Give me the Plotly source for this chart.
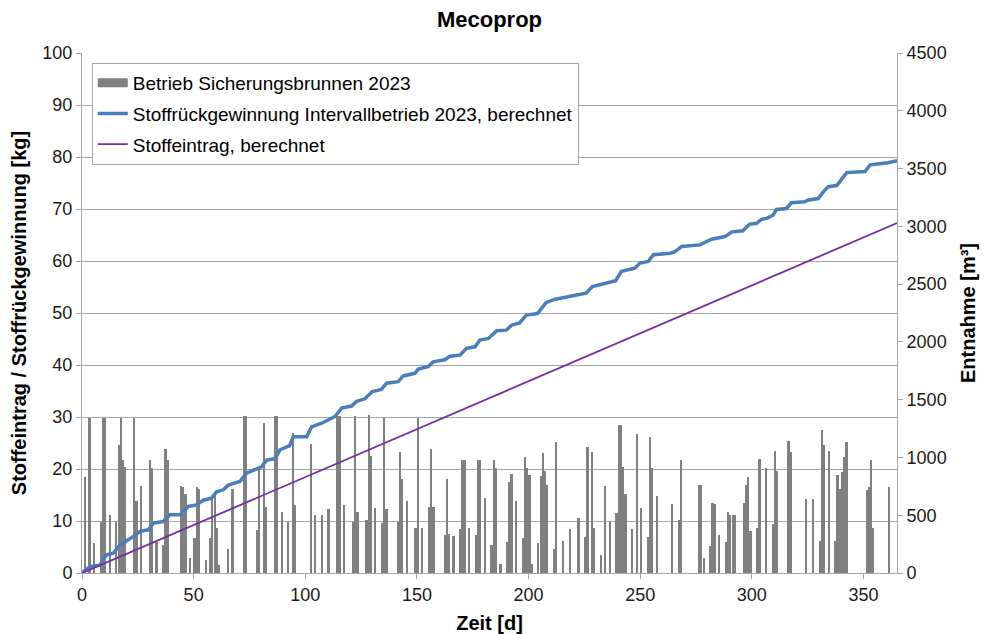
import plotly.graph_objects as go

# ---------------- data ----------------
# daily pumping volume of the protection well [m³] (category day index 1..365)
bar_days = [2, 4, 6, 9, 10, 11, 13, 16, 17, 18, 19, 20, 24, 25, 27, 31, 32, 34, 37, 38, 39,
            45, 46, 47, 49, 51, 52, 53, 56, 58, 59, 60, 61, 62, 66, 68, 73, 74, 79, 80, 82, 83,
            87, 88, 90, 93, 95, 96, 103, 105, 108, 111, 115, 116, 118, 122, 123, 124, 128, 129,
            130, 132, 135, 136, 137, 142, 143, 144, 146, 150, 151, 153, 156, 157, 158, 163, 164,
            165, 167, 170, 171, 172, 174, 177, 178, 179, 181, 184, 185, 186, 188, 191, 192, 193,
            195, 198, 199, 200, 201, 202, 205, 206, 207, 208, 209, 212, 213, 216, 219, 223, 226,
            227, 229, 230, 233, 235, 237, 240, 241, 242, 243, 244, 247, 249, 251, 254, 255, 256,
            258, 265, 268, 269, 277, 278, 279, 282, 283, 284, 286, 289, 290, 291, 292, 293, 297,
            298, 299, 300, 303, 304, 307, 310, 311, 312, 317, 318, 325, 328, 331, 332, 333, 335,
            338, 339, 340, 341, 342, 343, 352, 353, 354, 355, 362]
bar_m3 = [830, 1340, 260, 440, 1340, 1340, 500, 440, 1110, 1340, 980, 920, 1340, 620, 750, 980, 910, 270, 240, 1070, 980,
          750, 740, 680, 130, 300, 740, 730, 110, 300, 650, 680, 390, 70, 210, 730, 1360, 1360, 370, 920, 1300, 570,
          1360, 1360, 530, 440, 1210, 590, 1120, 500, 500, 550, 1360, 1360, 590, 440, 1360, 530, 460, 1370,
          1010, 560, 430, 1340, 550, 440, 1050, 810, 620, 390, 1340, 390, 570, 1070, 570, 330, 810,
          340, 320, 380, 980, 980, 390, 330, 980, 980, 650, 240, 980, 910, 80, 270, 790, 860,
          620, 300, 1000, 910, 850, 80, 260, 840, 1040, 880, 760, 210, 1130, 280, 380, 480, 310,
          1090, 1050, 390, 160, 750, 440, 520, 1280, 1280, 920, 680, 380, 1200, 560, 310, 1180, 910,
          670, 600, 460, 980, 760, 760, 130, 230, 610, 600, 330, 270, 530, 500, 500, 500, 610,
          760, 830, 360, 390, 990, 910, 420, 1060, 880, 1140, 1050, 640, 640, 280, 1240, 1110, 1060,
          280, 850, 730, 870, 1000, 1130, 720, 740, 980, 390, 740]

# cumulative recovery, interval operation 2023 [kg]
rec_days = [0, 0.6, 3.6, 8, 11, 14, 17, 20, 23, 26, 29.7, 32, 36.4, 39.4, 44, 47.6, 51.3, 54.3, 58,
            60.3, 63.3, 65.5, 70.7, 73.7, 76.7, 80.4, 82.7, 86.4, 88.7, 93, 94.6, 100.6, 102.8,
            107.3, 113.3, 116.3, 120.7, 123, 126.7, 130, 134.1, 136.4, 141.6, 143.9, 149.1, 150.6,
            155, 157.3, 162.5, 164.8, 169.3, 172.2, 176, 178.2, 182, 185.7, 190, 192.5, 196, 199,
            204, 207.8, 211.5, 219.7, 225.7, 228.6, 233.8, 239, 241.6, 247.6, 249.9, 253.6, 255.9,
            263.4, 265.6, 268.6, 276.7, 282, 288, 291, 296, 299, 302, 304.3, 306.6, 309.5, 311,
            315.5, 317.7, 323.7, 325, 329.7, 332, 334.2, 338, 340.2, 342.5, 350.7, 353, 361, 364, 365]
rec_kg = [0, 0.3, 1.2, 1.5, 3.5, 3.8, 5.4, 6.2, 7.0, 8.0, 8.3, 9.6, 9.9, 11.2, 11.2, 12.8, 13.1, 14.0, 14.4,
          15.6, 16.0, 16.9, 17.6, 19.2, 19.8, 20.4, 21.7, 22.0, 23.7, 24.5, 26.2, 26.2, 28.1,
          28.8, 30.1, 31.7, 32.1, 33.0, 33.5, 34.9, 35.3, 36.5, 36.8, 37.9, 38.4, 39.2,
          39.7, 40.6, 41.0, 41.7, 41.9, 43.2, 43.5, 44.8, 45.1, 46.6, 46.7, 47.7, 48.1, 49.6,
          49.9, 52.0, 52.6, 53.3, 53.8, 55.1, 55.6, 56.2, 58.0, 58.6, 59.6, 59.9, 61.2,
          61.5, 61.8, 62.8, 63.1, 64.2, 64.7, 65.6, 65.8, 67.1, 67.2, 68.0, 68.2, 68.8, 69.9,
          70.1, 71.2, 71.4, 71.7, 72.0, 73.3, 74.3, 74.5, 75.7, 77.0, 77.2, 78.5, 78.9, 79.2, 79.3]

# calculated input [kg]
inp_days = [0, 365]
inp_kg = [0, 67.3]

x_ticks = [0, 50, 100, 150, 200, 250, 300, 350]

# ---------------- figure ----------------
FONT = "Liberation Sans, Arial, sans-serif"
GRID = "#a6a6a6"
TXT = "#1a1a1a"
BAR = "#808080"

bar_x = [d - 0.5 for d in bar_days]

fig = go.Figure()
fig.add_trace(go.Bar(
    x=bar_x, y=bar_m3, name="Betrieb Sicherungsbrunnen 2023",
    marker=dict(color=BAR, line=dict(width=0)), width=0.75,
    yaxis="y", showlegend=False))
# legend entry for the bars (wide rectangle swatch as in the original)
fig.add_trace(go.Scatter(
    x=[None], y=[None], mode="lines", name="Betrieb Sicherungsbrunnen 2023",
    line=dict(color=BAR, width=9), yaxis="y", legendgroup="a", hoverinfo="skip"))
fig.add_trace(go.Scatter(
    x=rec_days, y=rec_kg, mode="lines",
    name="Stoffrückgewinnung Intervallbetrieb 2023, berechnet",
    line=dict(color="#4a7ebb", width=3.5), yaxis="y2", legendgroup="b"))
fig.add_trace(go.Scatter(
    x=inp_days, y=inp_kg, mode="lines", name="Stoffeintrag, berechnet",
    line=dict(color="#7030a0", width=1.8), yaxis="y2", legendgroup="c"))

fig.update_layout(
    width=989, height=634,
    margin=dict(l=82, r=92, t=53, b=61),
    paper_bgcolor="white", plot_bgcolor="white",
    font=dict(family=FONT, size=18, color=TXT),
    title=dict(text="<b>Mecoprop</b>", x=0.5, xanchor="center", xref="paper",
               y=1 - 19 / 634, yref="container", yanchor="middle",
               font=dict(size=22, color="#000")),
    bargap=0,
    showlegend=True,
    legend=dict(x=0.012, y=0.981, xanchor="left", yanchor="top",
                bgcolor="white", bordercolor=GRID, borderwidth=1,
                font=dict(size=19, color="#000"), tracegroupgap=3,
                traceorder="grouped", itemwidth=30),
    xaxis=dict(range=[0, 365], tickvals=x_ticks, ticks="outside", ticklen=5,
               tickcolor=GRID, showline=True, linecolor=GRID, linewidth=1,
               showgrid=False, zeroline=False, automargin=False,
               title=dict(text="<b>Zeit [d]</b>", font=dict(size=20, color="#000"), standoff=13)),
    yaxis=dict(range=[0, 4500], dtick=500, side="right", ticks="outside", ticklen=5,
               tickcolor=GRID, showline=True, linecolor=GRID, showgrid=False, zeroline=False,
               automargin=False,
               title=dict(text="<b>Entnahme [m³]</b>", font=dict(size=20, color="#000"), standoff=15)),
    yaxis2=dict(range=[0, 100], dtick=10, side="left", overlaying="y", ticks="outside",
                ticklen=5, tickcolor=GRID, showline=True, linecolor=GRID,
                showgrid=True, gridcolor=GRID, gridwidth=1, zeroline=False, automargin=False,
                title=dict(text="<b>Stoffeintrag / Stoffrückgewinnung [kg]</b>",
                           font=dict(size=20, color="#000"), standoff=10)),
)

fig.write_html("out.html", config={"displayModeBar": False},
               post_script="document.body.style.margin='0';")
